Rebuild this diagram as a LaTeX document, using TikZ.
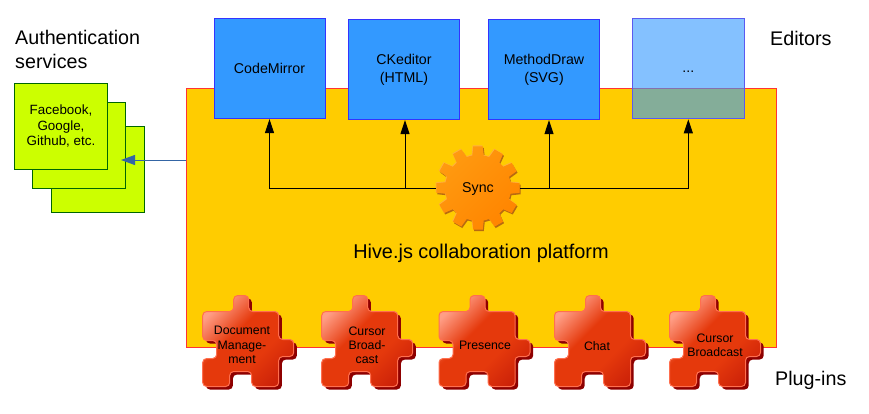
\documentclass[tikz,border=0pt]{standalone}
\usepackage{fontspec}
\setmainfont{Liberation Sans}
\usetikzlibrary{arrows.meta}
\definecolor{mainfill}{HTML}{FFCC00}
\definecolor{mainedge}{HTML}{FF3333}
\definecolor{edfill}{HTML}{3399FF}
\definecolor{ededge}{HTML}{3333FF}
\definecolor{moreedge}{HTML}{5A5AF0}
\definecolor{authfill}{HTML}{CCFF00}
\definecolor{authedge}{HTML}{006600}
\definecolor{arrowblue}{HTML}{3465A4}
\definecolor{pzshadow}{HTML}{8E0000}
\definecolor{pzlight}{HTML}{FF9E86}
\definecolor{pzmid}{HTML}{E5390C}
\definecolor{pzdark}{HTML}{C81E08}
\definecolor{pzrim}{HTML}{FF6F4F}
\definecolor{gearshadow}{HTML}{B86A10}
\definecolor{gearrim}{HTML}{FFB040}
\definecolor{gearA}{HTML}{FF9A10}
\definecolor{gearB}{HTML}{FF8500}
\pgfdeclareverticalshading{pzshade}{100bp}{color(0bp)=(pzlight); color(24bp)=(pzlight); color(42bp)=(pzmid); color(60bp)=(pzmid); color(80bp)=(pzdark); color(100bp)=(pzdark)}
\tikzset{
  x=1pt,y=-1pt,
  mainbox/.style={draw=mainedge,fill=mainfill,line width=1pt},
  editorbox/.style={draw=ededge,fill=edfill,line width=0.8pt,minimum width=111pt,minimum height=100.5pt,inner sep=0pt,align=center,font=\fontsize{14.2}{18}\selectfont},
  morebox/.style={editorbox,draw=moreedge,fill=none},
  authbox/.style={draw=authedge,fill=authfill,line width=0.8pt,minimum width=93pt,minimum height=86pt,inner sep=0pt,align=center,font=\fontsize{13.4}{15.5}\selectfont},
  biglabel/.style={font=\fontsize{19.7}{24.5}\selectfont,align=left,inner sep=0pt},
  pieceinfo/.style={font=\fontsize{12.3}{14.2}\selectfont,align=center,inner sep=0pt},
  syncarrow/.style={draw=black,line width=1pt,-{Triangle[length=14pt,width=9pt]}},
  authlink/.style={draw=arrowblue,line width=0.9pt,-{Triangle[length=14pt,width=10pt]}},
}
\newcommand{\pzpath}{(0,0) -- (31,0) -- (31,-16) -- (46,-16) -- (46,0) -- (76,0) -- (76,28) -- (91,28) -- (91,45) -- (76,45) -- (76,75) -- (49,75) -- (49,60) -- (27,60) -- (27,75) -- (0,75) -- (0,47) -- (14,47) -- (14,29) -- (0,29) -- cycle}
\newcommand{\pzdraw}[1]{%
  \begin{scope}[shift={(#1,311.5)}]
    \fill[pzshadow,rounded corners=4pt,shift={(3.2,3)}] \pzpath;
    \shade[rounded corners=4pt,shading=pzshade,shading angle=225] \pzpath;
    \draw[pzrim,line width=1pt,rounded corners=4pt] \pzpath;
  \end{scope}}
\newcommand{\gearpath}{(-10:33) foreach \a in {0,30,...,330} { -- (\a-10:33) -- (\a-6.5:42) -- (\a+6.5:42) -- (\a+10:33) } -- cycle}
\begin{document}
\begin{tikzpicture}
\useasboundingbox (0,0) rectangle (869,414);
\fill[white] (0,0) rectangle (869,414);
% main platform
\node[mainbox,minimum width=590.2pt,minimum height=258.7pt,inner sep=0pt] (platform) at (481.6,217.8) {};
\node[font=\fontsize{19.9}{24}\selectfont,inner sep=0pt] (platformlabel) at (481,253) {Hive.js collaboration platform};
% auth services
\node[authbox] (auth3) at (98,169.5) {};
\node[authbox] (auth2) at (79,145.3) {};
\node[authbox] (auth1) at (61,126.3) {Facebook,\\Google,\\Github, etc.};
\node[biglabel,anchor=north west] (authlabel) at (15,30) {Authentication\\services};
% editors
\node[editorbox] (cm) at (269.5,68.5) {CodeMirror};
\node[editorbox] (ck) at (404,69.5) {CKeditor\\(HTML)};
\node[editorbox] (md) at (544,69.5) {MethodDraw\\(SVG)};
\fill[edfill,opacity=0.6] (632.3,18.3) rectangle (744.3,119);
\node[morebox,minimum width=112pt] (more) at (688.3,68.65) {\strut...};
\node[biglabel,anchor=west] (editorslabel) at (770,38) {Editors};
% gear
\begin{scope}[shift={(478,188)}]
  \fill[gearshadow,shift={(1,1.5)}] \gearpath;
  \fill[gearrim,shift={(-0.6,-0.8)}] \gearpath;
  \shade[shading=axis,left color=gearA,right color=gearB,shading angle=45] \gearpath;
\end{scope}
\node[circle,minimum size=84pt,inner sep=0pt,text depth=0pt,font=\fontsize{14.2}{17}\selectfont] (sync) at (478,188) {Sync};
% connectors
\draw[syncarrow] (sync.west) -| (cm.south);
\draw[syncarrow] (sync.west) -| ([xshift=1pt]ck.south);
\draw[syncarrow] (sync.east) -| ([xshift=5pt]md.south);
\draw[syncarrow] (sync.east) -| (more.south);
\coordinate (authtip) at (121,160);
\draw[authlink] (platform.west |- authtip) -- (authtip);
% plug-ins
\pzdraw{202.7}
\pzdraw{321.7}
\pzdraw{439}
\pzdraw{554.5}
\pzdraw{669.5}
\node[pieceinfo] (pz1) at (242,345) {Document\\Manage-\\ment};
\node[pieceinfo] (pz2) at (367,345) {Cursor\\Broad-\\cast};
\node[pieceinfo] (pz3) at (485,345) {Presence};
\node[pieceinfo] (pz4) at (597,346) {Chat};
\node[pieceinfo] (pz5) at (715,345) {Cursor\\Broadcast};
\node[biglabel,anchor=west] (pluginslabel) at (775,380) {Plug-ins};
\end{tikzpicture}
\end{document}
